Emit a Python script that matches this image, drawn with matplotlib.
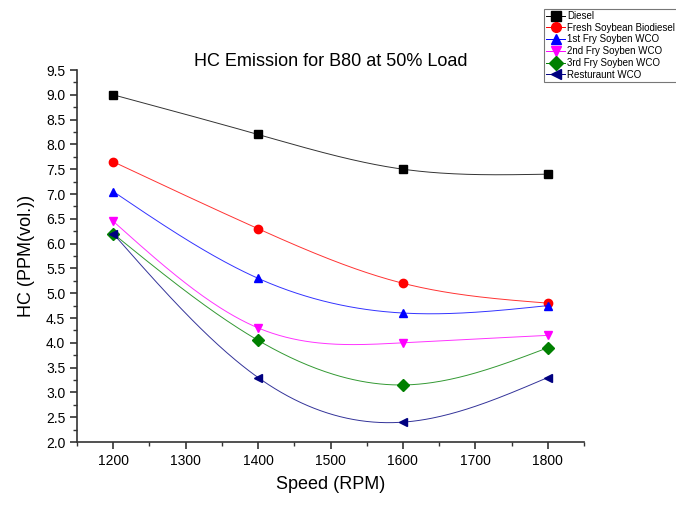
import numpy as np
import matplotlib
matplotlib.use("Agg")
import matplotlib.pyplot as plt
from matplotlib.ticker import MultipleLocator

plt.rcParams["font.family"] = ["Liberation Sans", "DejaVu Sans"]

# datos
speed = [1200, 1400, 1600, 1800]
diesel = [9.0, 8.2, 7.5, 7.4]
fresh = [7.65, 6.3, 5.2, 4.8]
fry1 = [7.05, 5.3, 4.6, 4.75]
fry2 = [6.45, 4.3, 4.0, 4.15]
fry3 = [6.2, 4.05, 3.15, 3.9]
resturaunt = [6.2, 3.3, 2.4, 3.3]

labels = ["Diesel", "Fresh Soybean Biodiesel", "1st Fry Soyben WCO",
          "2nd Fry Soyben WCO", "3rd Fry Soyben WCO", "Resturaunt WCO"]
colors = ["black", "red", "blue", "magenta", "green", "navy"]
markers = ["s", "o", "^", "v", "D", "<"]


def spline(x, y, n=200):
    # spline cubico natural, solo para dibujar la linea suave
    x = np.asarray(x, float)
    y = np.asarray(y, float)
    k = len(x)
    h = np.diff(x)
    A = np.zeros((k, k))
    b = np.zeros(k)
    A[0, 0] = A[-1, -1] = 1
    for i in range(1, k - 1):
        A[i, i - 1] = h[i - 1]
        A[i, i] = 2 * (h[i - 1] + h[i])
        A[i, i + 1] = h[i]
        b[i] = 6 * ((y[i + 1] - y[i]) / h[i] - (y[i] - y[i - 1]) / h[i - 1])
    M = np.linalg.solve(A, b)
    xs = np.linspace(x[0], x[-1], n)
    idx = np.clip(np.searchsorted(x, xs) - 1, 0, k - 2)
    x0, x1 = x[idx], x[idx + 1]
    hh = x1 - x0
    ys = (M[idx] * (x1 - xs) ** 3 / (6 * hh) + M[idx + 1] * (xs - x0) ** 3 / (6 * hh)
          + (y[idx] / hh - M[idx] * hh / 6) * (x1 - xs)
          + (y[idx + 1] / hh - M[idx + 1] * hh / 6) * (xs - x0))
    return xs, ys


fig = plt.figure(figsize=(6.76, 5.05), dpi=100)
ax = fig.add_axes([77 / 676, 1 - 442 / 505, 507 / 676, 372 / 505])

series = [diesel, fresh, fry1, fry2, fry3, resturaunt]
handles = []
for vals, lab, c, m in zip(series, labels, colors, markers):
    xs, ys = spline(speed, vals)
    ax.plot(xs, ys, color=c, lw=0.7, alpha=0.8)
    ax.plot(speed, vals, linestyle="none", marker=m, color=c, markersize=6)
    h, = ax.plot([], [], color=c, lw=0.7, marker=m, markersize=7, label=lab)
    handles.append(h)

ax.set_xlim(1150, 1850)
ax.set_ylim(2.0, 9.5)
ax.xaxis.set_major_locator(MultipleLocator(100))
ax.xaxis.set_minor_locator(MultipleLocator(50))
ax.yaxis.set_major_locator(MultipleLocator(0.5))
ax.yaxis.set_minor_locator(MultipleLocator(0.25))
ax.yaxis.set_major_formatter(plt.FormatStrFormatter("%.1f"))

ax.spines["top"].set_visible(False)
ax.spines["right"].set_visible(False)
for s in ["left", "bottom"]:
    ax.spines[s].set_linewidth(1.2)
    ax.spines[s].set_color("#333333")
ax.tick_params(which="major", direction="out", length=5, width=1.2, labelsize=10, colors="#333333", labelcolor="black")
ax.tick_params(which="minor", direction="out", length=3, width=1.0, colors="#333333")

ax.set_xlabel("Speed (RPM)", fontsize=13, labelpad=6)
ax.set_ylabel("HC (PPM(vol.))", fontsize=13, labelpad=8)
ax.set_title("HC Emission for B80 at 50% Load", fontsize=13, pad=1)

leg = fig.legend(handles=handles, loc="upper left", bbox_to_anchor=(544 / 676, 1 - 9 / 505),
                 fontsize=7, frameon=True, fancybox=False, handlelength=2.0,
                 handletextpad=0.2, labelspacing=0.18, borderpad=0.2, borderaxespad=0)
leg.get_frame().set_edgecolor("#555555")
leg.get_frame().set_linewidth(0.8)

plt.savefig("out.png", dpi=100)
